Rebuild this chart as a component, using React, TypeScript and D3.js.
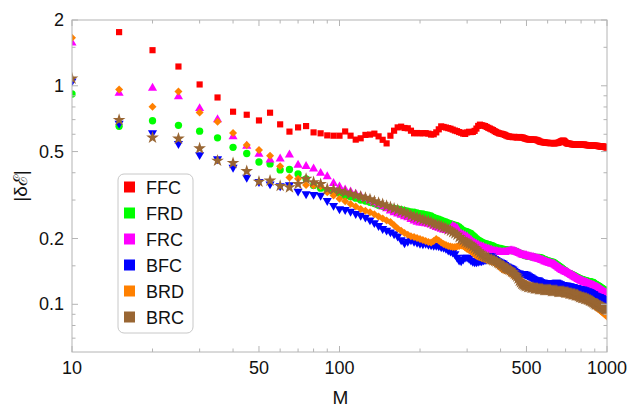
import React from "react";
import * as d3 from "d3";

// sample grid M = 10, 15, ..., 1000
const M_VALUES: number[] = d3.range(10, 1001, 5);

const FFC = [
  2.3, 1.76, 1.455, 1.225, 1.014, 0.884, 0.761, 0.737, 0.694, 0.753, 0.666, 0.617, 0.645, 0.654, 0.612, 0.606, 0.593, 0.591, 0.591, 0.618,
  0.591, 0.567, 0.575, 0.596, 0.598, 0.604, 0.587, 0.566, 0.545, 0.591, 0.623, 0.645, 0.65, 0.641, 0.639, 0.623, 0.606, 0.608, 0.606, 0.607,
  0.607, 0.604, 0.598, 0.6, 0.612, 0.632, 0.652, 0.648, 0.644, 0.64, 0.636, 0.63, 0.624, 0.62, 0.614, 0.61, 0.604, 0.602, 0.612, 0.616,
  0.614, 0.615, 0.622, 0.637, 0.655, 0.664, 0.66, 0.657, 0.654, 0.648, 0.642, 0.637, 0.632, 0.627, 0.62, 0.615, 0.61, 0.606, 0.604, 0.602,
  0.6, 0.596, 0.592, 0.588, 0.586, 0.584, 0.583, 0.582, 0.584, 0.582, 0.58, 0.581, 0.583, 0.582, 0.58, 0.579, 0.576, 0.573, 0.571, 0.569,
  0.568, 0.567, 0.568, 0.566, 0.567, 0.568, 0.566, 0.565, 0.563, 0.56, 0.556, 0.554, 0.553, 0.552, 0.551, 0.55, 0.549, 0.549, 0.548, 0.547,
  0.547, 0.546, 0.547, 0.548, 0.546, 0.545, 0.546, 0.547, 0.547, 0.548, 0.55, 0.552, 0.555, 0.558, 0.56, 0.561, 0.56, 0.556, 0.551, 0.547,
  0.545, 0.544, 0.543, 0.543, 0.542, 0.541, 0.54, 0.54, 0.539, 0.539, 0.538, 0.538, 0.538, 0.538, 0.537, 0.538, 0.539, 0.538, 0.537, 0.537,
  0.537, 0.538, 0.538, 0.537, 0.536, 0.536, 0.535, 0.535, 0.535, 0.534, 0.534, 0.534, 0.534, 0.533, 0.533, 0.533, 0.532, 0.532, 0.532, 0.531,
  0.531, 0.531, 0.531, 0.53, 0.53, 0.529, 0.529, 0.528, 0.528, 0.527, 0.527, 0.527, 0.526, 0.526, 0.525, 0.524, 0.524, 0.523, 0.522,
];

const FRD = [
  0.917, 0.652, 0.692, 0.659, 0.62, 0.578, 0.523, 0.49, 0.448, 0.439, 0.412, 0.414, 0.395, 0.375, 0.35, 0.34, 0.332, 0.328, 0.322, 0.315,
  0.311, 0.306, 0.3, 0.297, 0.293, 0.289, 0.284, 0.281, 0.279, 0.277, 0.275, 0.273, 0.271, 0.269, 0.267, 0.265, 0.264, 0.262, 0.26, 0.259,
  0.257, 0.256, 0.254, 0.25, 0.247, 0.245, 0.243, 0.24, 0.238, 0.236, 0.234, 0.232, 0.23, 0.229, 0.226, 0.222, 0.218, 0.216, 0.215, 0.213,
  0.211, 0.207, 0.204, 0.2, 0.197, 0.195, 0.193, 0.191, 0.19, 0.189, 0.188, 0.187, 0.186, 0.185, 0.183, 0.182, 0.181, 0.18, 0.18, 0.179,
  0.179, 0.178, 0.178, 0.177, 0.177, 0.177, 0.176, 0.176, 0.176, 0.175, 0.174, 0.173, 0.172, 0.171, 0.17, 0.169, 0.168, 0.167, 0.167, 0.166,
  0.166, 0.166, 0.165, 0.165, 0.165, 0.165, 0.164, 0.164, 0.164, 0.164, 0.164, 0.163, 0.163, 0.162, 0.161, 0.16, 0.16, 0.159, 0.158, 0.158,
  0.157, 0.157, 0.156, 0.156, 0.156, 0.155, 0.154, 0.153, 0.152, 0.151, 0.15, 0.149, 0.148, 0.147, 0.146, 0.145, 0.144, 0.143, 0.142, 0.141,
  0.14, 0.139, 0.139, 0.138, 0.138, 0.137, 0.137, 0.136, 0.136, 0.135, 0.135, 0.134, 0.133, 0.133, 0.132, 0.132, 0.131, 0.131, 0.13, 0.13,
  0.13, 0.129, 0.129, 0.129, 0.128, 0.128, 0.128, 0.128, 0.127, 0.127, 0.127, 0.127, 0.127, 0.126, 0.126, 0.126, 0.126, 0.125, 0.124, 0.124,
  0.123, 0.123, 0.122, 0.122, 0.121, 0.121, 0.12, 0.12, 0.119, 0.119, 0.118, 0.118, 0.117, 0.117, 0.116, 0.116, 0.115, 0.115, 0.114,
];

const FRC = [
  1.57, 0.926, 0.976, 0.891, 0.788, 0.7, 0.585, 0.53, 0.487, 0.458, 0.463, 0.483, 0.434, 0.428, 0.417, 0.398, 0.384, 0.358, 0.345, 0.334,
  0.327, 0.32, 0.313, 0.305, 0.298, 0.292, 0.286, 0.28, 0.274, 0.268, 0.263, 0.259, 0.256, 0.252, 0.249, 0.245, 0.241, 0.238, 0.236, 0.235,
  0.234, 0.233, 0.231, 0.228, 0.225, 0.223, 0.221, 0.219, 0.218, 0.217, 0.222, 0.228, 0.226, 0.223, 0.212, 0.21, 0.208, 0.206, 0.204, 0.2,
  0.197, 0.193, 0.191, 0.189, 0.187, 0.185, 0.184, 0.183, 0.181, 0.18, 0.179, 0.178, 0.177, 0.176, 0.175, 0.175, 0.174, 0.174, 0.173, 0.173,
  0.173, 0.173, 0.174, 0.174, 0.175, 0.176, 0.176, 0.176, 0.175, 0.174, 0.173, 0.172, 0.171, 0.17, 0.169, 0.168, 0.168, 0.167, 0.167, 0.166,
  0.166, 0.165, 0.165, 0.164, 0.164, 0.163, 0.163, 0.162, 0.162, 0.161, 0.161, 0.16, 0.159, 0.159, 0.158, 0.157, 0.157, 0.156, 0.155, 0.155,
  0.154, 0.154, 0.153, 0.153, 0.153, 0.152, 0.151, 0.15, 0.149, 0.148, 0.147, 0.146, 0.145, 0.144, 0.143, 0.143, 0.142, 0.141, 0.141, 0.14,
  0.14, 0.139, 0.138, 0.138, 0.137, 0.136, 0.136, 0.135, 0.134, 0.134, 0.133, 0.132, 0.132, 0.131, 0.13, 0.13, 0.129, 0.129, 0.128, 0.128,
  0.127, 0.127, 0.126, 0.126, 0.126, 0.125, 0.125, 0.125, 0.124, 0.124, 0.124, 0.123, 0.123, 0.123, 0.122, 0.122, 0.122, 0.121, 0.121, 0.12,
  0.12, 0.12, 0.119, 0.119, 0.118, 0.118, 0.117, 0.117, 0.116, 0.116, 0.115, 0.115, 0.114, 0.114, 0.113, 0.113, 0.112, 0.112, 0.112,
];

const BFC = [
  1.05, 0.673, 0.608, 0.543, 0.483, 0.463, 0.423, 0.381, 0.364, 0.355, 0.348, 0.352, 0.329, 0.32, 0.318, 0.315, 0.298, 0.283, 0.273, 0.271,
  0.266, 0.26, 0.255, 0.25, 0.243, 0.236, 0.229, 0.222, 0.218, 0.214, 0.21, 0.205, 0.197, 0.191, 0.194, 0.197, 0.194, 0.192, 0.19, 0.189,
  0.19, 0.188, 0.187, 0.186, 0.186, 0.185, 0.183, 0.182, 0.18, 0.177, 0.175, 0.173, 0.17, 0.164, 0.159, 0.158, 0.161, 0.164, 0.164, 0.162,
  0.159, 0.157, 0.156, 0.156, 0.157, 0.158, 0.158, 0.159, 0.16, 0.161, 0.164, 0.167, 0.166, 0.164, 0.162, 0.16, 0.158, 0.157, 0.156, 0.155,
  0.154, 0.152, 0.15, 0.149, 0.148, 0.147, 0.146, 0.145, 0.143, 0.141, 0.14, 0.139, 0.139, 0.138, 0.138, 0.138, 0.138, 0.137, 0.137, 0.136,
  0.135, 0.134, 0.133, 0.132, 0.131, 0.13, 0.129, 0.129, 0.129, 0.129, 0.128, 0.127, 0.126, 0.126, 0.126, 0.125, 0.125, 0.125, 0.125, 0.125,
  0.125, 0.125, 0.124, 0.124, 0.124, 0.125, 0.125, 0.126, 0.126, 0.125, 0.125, 0.124, 0.124, 0.123, 0.123, 0.123, 0.122, 0.122, 0.122, 0.122,
  0.122, 0.121, 0.121, 0.121, 0.121, 0.12, 0.12, 0.12, 0.12, 0.119, 0.119, 0.119, 0.119, 0.119, 0.118, 0.118, 0.118, 0.118, 0.117, 0.117,
  0.117, 0.117, 0.116, 0.116, 0.116, 0.115, 0.115, 0.115, 0.115, 0.114, 0.114, 0.114, 0.113, 0.113, 0.112, 0.112, 0.112, 0.111, 0.11, 0.11,
  0.109, 0.109, 0.109, 0.108, 0.108, 0.108, 0.108, 0.107, 0.107, 0.107, 0.106, 0.106, 0.106, 0.105, 0.105, 0.105, 0.104, 0.104, 0.104,
];

const BRD = [
  1.66, 0.962, 0.802, 0.942, 0.755, 0.685, 0.608, 0.536, 0.508, 0.479, 0.428, 0.38, 0.375, 0.352, 0.35, 0.347, 0.326, 0.315, 0.304, 0.296,
  0.288, 0.28, 0.273, 0.268, 0.264, 0.258, 0.252, 0.247, 0.242, 0.238, 0.23, 0.222, 0.217, 0.212, 0.208, 0.205, 0.203, 0.201, 0.199, 0.197,
  0.195, 0.193, 0.192, 0.195, 0.199, 0.196, 0.192, 0.189, 0.187, 0.185, 0.184, 0.183, 0.183, 0.184, 0.185, 0.186, 0.185, 0.182, 0.179, 0.177,
  0.175, 0.172, 0.169, 0.167, 0.165, 0.164, 0.163, 0.162, 0.161, 0.16, 0.159, 0.158, 0.157, 0.156, 0.155, 0.153, 0.151, 0.149, 0.147, 0.145,
  0.144, 0.143, 0.143, 0.142, 0.14, 0.139, 0.137, 0.136, 0.135, 0.134, 0.133, 0.132, 0.13, 0.129, 0.127, 0.126, 0.125, 0.124, 0.124, 0.123,
  0.122, 0.122, 0.121, 0.121, 0.12, 0.12, 0.119, 0.119, 0.119, 0.118, 0.118, 0.118, 0.118, 0.117, 0.117, 0.117, 0.117, 0.116, 0.116, 0.116,
  0.116, 0.116, 0.116, 0.116, 0.116, 0.115, 0.115, 0.115, 0.115, 0.114, 0.114, 0.114, 0.113, 0.113, 0.113, 0.113, 0.112, 0.112, 0.112, 0.112,
  0.112, 0.111, 0.111, 0.111, 0.11, 0.11, 0.11, 0.11, 0.109, 0.109, 0.109, 0.109, 0.109, 0.108, 0.108, 0.108, 0.108, 0.108, 0.107, 0.107,
  0.107, 0.106, 0.106, 0.106, 0.105, 0.105, 0.104, 0.104, 0.104, 0.103, 0.103, 0.103, 0.102, 0.102, 0.101, 0.1, 0.1, 0.099, 0.098, 0.098,
  0.097, 0.097, 0.096, 0.096, 0.095, 0.095, 0.094, 0.094, 0.093, 0.093, 0.092, 0.092, 0.091, 0.091, 0.09, 0.09, 0.089, 0.089, 0.088,
];

const BRC = [
  1.08, 0.697, 0.579, 0.573, 0.517, 0.454, 0.443, 0.407, 0.364, 0.368, 0.348, 0.343, 0.355, 0.375, 0.362, 0.355, 0.337, 0.335, 0.33, 0.325,
  0.32, 0.315, 0.311, 0.307, 0.302, 0.296, 0.291, 0.287, 0.282, 0.278, 0.274, 0.27, 0.266, 0.263, 0.259, 0.255, 0.252, 0.25, 0.247, 0.244,
  0.242, 0.24, 0.237, 0.234, 0.232, 0.23, 0.228, 0.225, 0.223, 0.22, 0.217, 0.214, 0.211, 0.208, 0.203, 0.199, 0.196, 0.193, 0.191, 0.189,
  0.187, 0.184, 0.181, 0.178, 0.175, 0.172, 0.169, 0.167, 0.165, 0.164, 0.163, 0.161, 0.16, 0.159, 0.158, 0.157, 0.155, 0.154, 0.152, 0.151,
  0.149, 0.147, 0.146, 0.145, 0.144, 0.143, 0.141, 0.14, 0.138, 0.136, 0.134, 0.131, 0.128, 0.126, 0.124, 0.123, 0.122, 0.121, 0.121, 0.12,
  0.12, 0.12, 0.119, 0.119, 0.119, 0.118, 0.118, 0.118, 0.118, 0.117, 0.117, 0.117, 0.117, 0.117, 0.116, 0.116, 0.116, 0.116, 0.116, 0.116,
  0.116, 0.116, 0.115, 0.115, 0.115, 0.115, 0.115, 0.115, 0.115, 0.114, 0.114, 0.114, 0.114, 0.114, 0.114, 0.114, 0.114, 0.113, 0.113, 0.113,
  0.113, 0.113, 0.112, 0.112, 0.112, 0.112, 0.111, 0.111, 0.111, 0.111, 0.11, 0.11, 0.11, 0.11, 0.109, 0.109, 0.108, 0.108, 0.108, 0.107,
  0.107, 0.107, 0.107, 0.106, 0.106, 0.106, 0.106, 0.105, 0.105, 0.105, 0.104, 0.104, 0.104, 0.103, 0.103, 0.102, 0.102, 0.101, 0.101, 0.1,
  0.1, 0.1, 0.1, 0.099, 0.099, 0.098, 0.098, 0.098, 0.097, 0.097, 0.097, 0.096, 0.096, 0.096, 0.095, 0.095, 0.095, 0.094, 0.094,
];

const SERIES_NAMES = ["FFC", "FRD", "FRC", "BFC", "BRD", "BRC"];
const SERIES_VALUES = [FFC, FRD, FRC, BFC, BRD, BRC];
const SERIES_COLORS = ["#ff0000", "#00ff00", "#ff00ff", "#0000ff", "#ff8000", "#996633"];
const SERIES_SHAPES = ["square", "circle", "triUp", "triDown", "diamond", "star"];

const X_MAJOR = [10, 50, 100, 500, 1000];
const X_MINOR = [20, 30, 40, 60, 70, 80, 90, 200, 300, 400, 600, 700, 800, 900];
const Y_MAJOR = [0.1, 0.2, 0.5, 1, 2];
const Y_MINOR = [0.07, 0.08, 0.09, 0.15, 0.3, 0.4, 0.6, 0.7, 0.8, 0.9, 1.5];

const W = 631;
const H = 408;
const L = 72;
const R = 607;
const T = 20;
const B = 352;
const FONT = "'Liberation Sans', Arial, sans-serif";
const FRAME = "#b4b4b4";

function symbolPath(shape: string): { d: string; rot: number } {
  switch (shape) {
    case "square":
      return { d: d3.symbol(d3.symbolSquare, 38)() as string, rot: 0 };
    case "circle":
      return { d: d3.symbol(d3.symbolCircle, 42)() as string, rot: 0 };
    case "triUp":
      return { d: d3.symbol(d3.symbolTriangle, 36)() as string, rot: 0 };
    case "triDown":
      return { d: d3.symbol(d3.symbolTriangle, 36)() as string, rot: 180 };
    case "diamond":
      return { d: d3.symbol(d3.symbolSquare, 32)() as string, rot: 45 };
    default:
      return { d: d3.symbol(d3.symbolStar, 50)() as string, rot: 0 };
  }
}

export default function App() {
  const x = d3.scaleLog().domain([10, 1000]).range([L, R]);
  const y = d3.scaleLog().domain([0.0605, 2]).range([B, T]);

  const legendX = 118;
  const legendY = 174;
  const legendW = 75;
  const legendH = 159;

  return (
    <svg
      width={W}
      height={H}
      style={{ position: "absolute", left: 0, top: 0, background: "#fff" }}
      fontFamily={FONT}
    >
      <defs>
        <clipPath id="plotclip">
          <rect x={L} y={T} width={R - L} height={B - T} />
        </clipPath>
      </defs>
      <rect x={0} y={0} width={W} height={H} fill="#fff" />

      {/* data */}
      <g clipPath="url(#plotclip)">
        {SERIES_VALUES.map((vals, si) => {
          const sym = symbolPath(SERIES_SHAPES[si]);
          return (
            <g key={SERIES_NAMES[si]} fill={SERIES_COLORS[si]}>
              {vals.map((v, i) => (
                <path
                  key={i}
                  d={sym.d}
                  transform={`translate(${x(M_VALUES[i])},${y(v)}) rotate(${sym.rot})`}
                />
              ))}
            </g>
          );
        })}
      </g>

      {/* frame */}
      <rect x={L} y={T} width={R - L} height={B - T} fill="none" stroke={FRAME} strokeWidth={1} />

      {/* x ticks */}
      {X_MAJOR.map((t) => (
        <g key={"xM" + t}>
          <line x1={x(t)} x2={x(t)} y1={B} y2={B - 6} stroke={FRAME} />
          <line x1={x(t)} x2={x(t)} y1={T} y2={T + 6} stroke={FRAME} />
          <text x={x(t)} y={B + 22} textAnchor="middle" fontSize={18} fill="#111">
            {t}
          </text>
        </g>
      ))}
      {X_MINOR.map((t) => (
        <g key={"xm" + t}>
          <line x1={x(t)} x2={x(t)} y1={B} y2={B - 3.5} stroke={FRAME} />
          <line x1={x(t)} x2={x(t)} y1={T} y2={T + 3.5} stroke={FRAME} />
        </g>
      ))}

      {/* y ticks */}
      {Y_MAJOR.map((t) => (
        <g key={"yM" + t}>
          <line x1={L} x2={L + 6} y1={y(t)} y2={y(t)} stroke={FRAME} />
          <line x1={R} x2={R - 6} y1={y(t)} y2={y(t)} stroke={FRAME} />
          <text x={L - 8} y={y(t) + 6} textAnchor="end" fontSize={18} fill="#111">
            {t}
          </text>
        </g>
      ))}
      {Y_MINOR.map((t) => (
        <g key={"ym" + t}>
          <line x1={L} x2={L + 3.5} y1={y(t)} y2={y(t)} stroke={FRAME} />
          <line x1={R} x2={R - 3.5} y1={y(t)} y2={y(t)} stroke={FRAME} />
        </g>
      ))}

      {/* axis labels */}
      <text x={(L + R) / 2 + 1} y={404} textAnchor="middle" fontSize={19} fill="#111">
        M
      </text>
      <text
        transform={`translate(27,${(T + B) / 2}) rotate(-90)`}
        textAnchor="middle"
        fontSize={19}
        fill="#111"
      >
        |δℰ|
      </text>

      {/* legend */}
      <rect
        x={legendX}
        y={legendY}
        width={legendW}
        height={legendH}
        rx={6}
        fill="#fff"
        stroke="#c8c8c8"
      />
      {SERIES_NAMES.map((n, i) => (
        <g key={"lg" + n}>
          <rect x={124} y={187 + i * 26 - 5.5} width={11} height={11} fill={SERIES_COLORS[i]} />
          <text x={146} y={187 + i * 26 + 6.5} fontSize={18} fill="#111">
            {n}
          </text>
        </g>
      ))}
    </svg>
  );
}
